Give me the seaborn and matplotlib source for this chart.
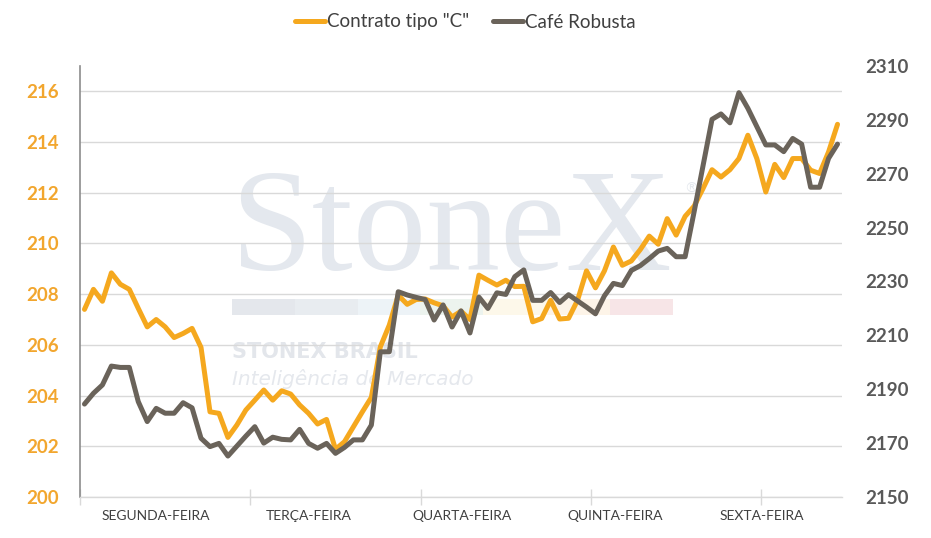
import matplotlib
matplotlib.use("Agg")
import matplotlib.pyplot as plt
from matplotlib.patches import Rectangle
from matplotlib.lines import Line2D
import seaborn as sns
import numpy as np
import pandas as pd

# ---- data ----
days = ["SEGUNDA-FEIRA", "TERÇA-FEIRA", "QUARTA-FEIRA", "QUINTA-FEIRA", "SEXTA-FEIRA"]
series_names = ['Contrato tipo "C"', "Café Robusta"]

contrato_c = [207.40, 208.19, 207.72, 208.84, 208.39, 208.19, 207.44, 206.71, 207.00, 206.71,
              206.29, 206.45, 206.65, 205.90, 203.36, 203.30, 202.35, 202.84, 203.43, 203.82,
              204.22, 203.82, 204.19, 204.06, 203.63, 203.30, 202.88, 203.06, 201.88, 202.18,
              202.77, 203.36, 203.93, 205.92, 206.78, 207.96, 207.60, 207.79, 207.81, 207.66,
              207.54, 207.10, 207.33, 207.00, 208.75, 208.55, 208.36, 208.55, 208.30, 208.31,
              206.91, 207.04, 207.76, 207.02, 207.05, 207.76, 208.92, 208.25, 208.92, 209.86,
              209.14, 209.31, 209.76, 210.29, 209.97, 210.98, 210.33, 211.07, 211.47, 212.17,
              212.91, 212.62, 212.91, 213.35, 214.27, 213.35, 212.03, 213.12, 212.60, 213.35,
              213.35, 212.89, 212.76, 213.61, 214.70]

robusta = [2184.5, 2188.5, 2191.6, 2198.6, 2198.1, 2198.1, 2185.4, 2178.0, 2182.9, 2181.1,
           2181.1, 2185.0, 2183.1, 2171.8, 2168.7, 2169.9, 2165.2, 2168.9, 2172.6, 2176.1,
           2170.0, 2172.2, 2171.4, 2171.2, 2175.1, 2169.9, 2168.1, 2169.9, 2166.2, 2168.4,
           2171.2, 2171.2, 2176.7, 2203.9, 2203.9, 2226.2, 2225.0, 2224.1, 2223.3, 2215.7,
           2221.3, 2213.1, 2219.1, 2210.9, 2224.2, 2220.0, 2225.8, 2225.2, 2231.8, 2234.3,
           2223.0, 2223.0, 2225.9, 2222.2, 2225.1, 2222.8, 2220.5, 2218.0, 2224.7, 2229.3,
           2228.5, 2234.1, 2235.9, 2238.5, 2241.3, 2242.3, 2239.2, 2239.2, 2255.8, 2273.0,
           2290.2, 2292.2, 2288.9, 2300.1, 2294.3, 2287.5, 2280.7, 2280.7, 2278.2, 2283.1,
           2281.0, 2265.0, 2265.0, 2275.7, 2281.0]

left_ticks = [200, 202, 204, 206, 208, 210, 212, 214, 216]
right_ticks = [2150, 2170, 2190, 2210, 2230, 2250, 2270, 2290, 2310]

df = pd.DataFrame({"idx": np.arange(len(contrato_c)), "c": contrato_c, "r": robusta})

# ---- style ----
sns.set_theme(style="white")
plt.rcParams["font.family"] = ["Lato", "DejaVu Sans"]

ORANGE = "#F5A81E"
GRAY = "#6A635A"

fig = plt.figure(figsize=(9.31, 5.38), dpi=100)
ax = fig.add_axes([80 / 931, 41 / 538, 762 / 931, 431 / 538])
ax2 = ax.twinx()

# watermark (behind everything)
wm = dict(transform=fig.transFigure, zorder=0.1)
ax.text(230 / 931, 1 - 270 / 538, "StoneX", family="Liberation Serif", fontsize=106,
        color="#E4E8EE", ha="left", va="baseline", **wm)
ax.text(684 / 931, 1 - 193 / 538, "®", family="DejaVu Sans", fontsize=10,
        color="#E4E8EE", ha="left", va="baseline", **wm)
bar_cols = ["#E4E7EC", "#E8ECF0", "#EDF3F7", "#ECF3EE", "#FDF8EA", "#FDF4E8", "#F7E5E7"]
bx = [232, 295, 358, 420, 483, 547, 610, 673]
for i, c in enumerate(bar_cols):
    ax.add_patch(Rectangle((bx[i] / 931, 1 - 315 / 538), (bx[i + 1] - bx[i]) / 931, 16 / 538,
                           facecolor=c, edgecolor="none", **wm))
ax.text(232 / 931, 1 - 358 / 538, "STONEX BRASIL", family="DejaVu Sans", fontsize=15,
        fontweight="bold", color="#E3E6EB", ha="left", va="baseline", **wm)
ax.text(232 / 931, 1 - 385 / 538, "Inteligência de Mercado", family="DejaVu Sans",
        fontsize=14.5, style="italic", color="#E5E8ED", ha="left", va="baseline", **wm)

# lines
sns.lineplot(data=df, x="idx", y="c", ax=ax, color=ORANGE, linewidth=3.6, zorder=3)
sns.lineplot(data=df, x="idx", y="r", ax=ax2, color=GRAY, linewidth=3.6, zorder=3)

ax.set_xlim(-0.5, len(contrato_c) - 0.5)
ax.set_ylim(200, 217)
ax2.set_ylim(2150, 2310)

ax.set_yticks(left_ticks)
ax.set_yticklabels([str(v) for v in left_ticks])
ax2.set_yticks(right_ticks)
ax2.set_yticklabels([str(v) for v in right_ticks])

ax.grid(axis="y", color="#D9D9D9", linewidth=1.0, zorder=0.5)
ax.grid(axis="x", visible=False)
ax2.grid(False)
ax.set_axisbelow(True)

# x ticks: separators (major) and day labels (minor)
sep_pos = [-0.5, 18.5, 37.5, 56.5, 75.5]
lab_pos = [8.0, 25.0, 42.1, 59.2, 75.5]
ax.xaxis.remove_overlapping_locs = False
ax.set_xticks(sep_pos)
ax.set_xticklabels([""] * len(sep_pos))
ax.set_xticks(lab_pos, minor=True)
ax.set_xticklabels(days, minor=True)
ax.tick_params(axis="x", which="major", direction="inout", length=12, width=1, color="#D9D9D9",
               bottom=True)
ax.tick_params(axis="x", which="minor", length=0, pad=9, labelsize=10, labelcolor="#404040",
               bottom=True)

ax.tick_params(axis="y", length=0, pad=15, labelsize=13.5, labelcolor="#F2A62E")
for t in ax.get_yticklabels():
    t.set_fontweight("bold")
ax2.tick_params(axis="y", length=0, pad=17, labelsize=13.5, labelcolor="#595959")
for t in ax2.get_yticklabels():
    t.set_fontweight("bold")

for a in (ax, ax2):
    a.set_xlabel("")
    a.set_ylabel("")
    for s in ("top", "right"):
        a.spines[s].set_visible(False)
ax2.spines["left"].set_visible(False)
ax2.spines["bottom"].set_visible(False)
ax.spines["left"].set_color("#8C8C8C")
ax.spines["left"].set_linewidth(1.2)
ax.spines["bottom"].set_color("#D9D9D9")
ax.spines["bottom"].set_linewidth(1.0)

handles = [Line2D([0], [0], color=ORANGE, lw=3.6), Line2D([0], [0], color=GRAY, lw=3.6)]
fig.legend(handles, series_names, loc="center", bbox_to_anchor=(0.5, 1 - 22 / 538), ncol=2,
           frameon=False, fontsize=13.5, handlelength=1.6, handletextpad=0.1,
           columnspacing=1.3, labelcolor="#404040")

fig.savefig("out.png", dpi=100)
